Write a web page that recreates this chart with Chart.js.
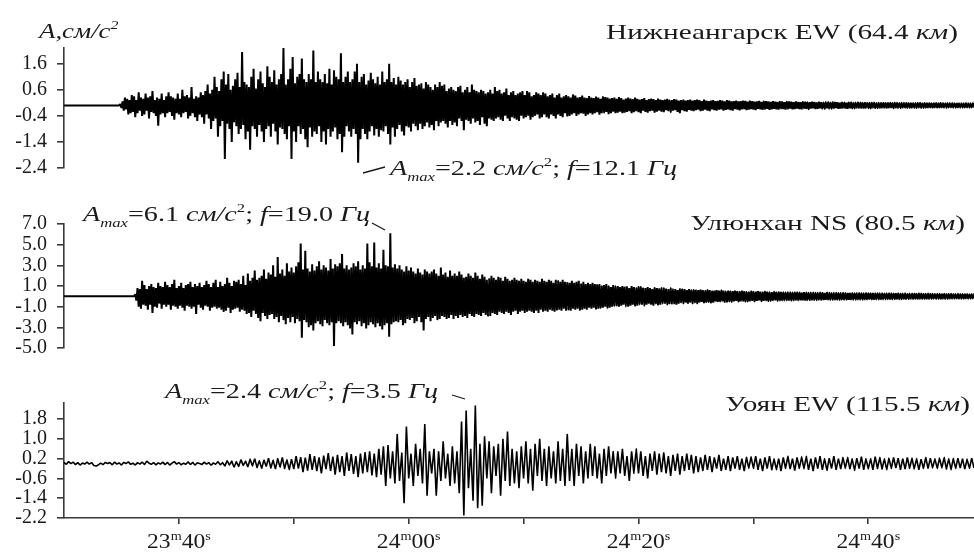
<!DOCTYPE html>
<html>
<head>
<meta charset="utf-8">
<script src="https://cdn.jsdelivr.net/npm/chart.js@4"></script>
<style>
  html, body { margin: 0; padding: 0; background: #fff; }
  #wrap { position: relative; width: 974px; height: 553px; overflow: hidden; }
  canvas { position: absolute; left: 0; }
</style>
</head>
<body>
<div id="wrap">
  <canvas id="c1" width="974" height="190" style="top:0px"></canvas>
  <canvas id="c2" width="974" height="180" style="top:190px"></canvas>
  <canvas id="c3" width="974" height="183" style="top:370px"></canvas>
</div>
<script>
// ---------- DATA ----------
// time axis: seconds after 23m30s
const timeMin = 0;
const timeMax = 79.2;
const topStep = 0.1;   // sampling step of the Нижнеангарск trace, s
const midStep = 0.1;   // sampling step of the Улюнхан trace, s
const botStep = 0.2;   // sampling step of the Уоян trace, s

// x-axis ticks (seconds after 23m30s) and their labels
const xTickValues = [10, 20, 30, 40, 50, 60, 70];
const xLabelValues = [10, 30, 50, 70];
const xLabelMin = ['23', '24', '24', '24'];
const xLabelSec = ['40', '00', '20', '40'];

// y-axis ticks for each trace
const topTicks = [1.6, 0.6, -0.4, -1.4, -2.4];
const midTicks = [7, 5, 3, 1, -1, -3, -5];
const botTicks = [1.8, 1.0, 0.2, -0.6, -1.4, -2.2];

// station labels
const stationNames = ['Нижнеангарск EW (64.4 ', 'Улюнхан NS (80.5 ', 'Уоян EW (115.5 '];

// peak annotations
const peakAmax = ['2.2', '6.1', '2.4'];
const peakFreq = ['12.1', '19.0', '3.5'];

// Нижнеангарск EW, cm/s^2 (one row = 1 s)
const topValues = [
 0,0,0,0,0,0,0,0,0,0,
 0,0,0,0,0,0,0,0,0,0,
 0,0,0,0,0,0,0,0,0,0,
 0,0,0,0,0,0,0,0,0,0,
 0,0,0,0,0,0,0,0,0,0.05,
 -0.1,0.15,-0.2,0.3,-0.15,0.25,-0.35,0.2,-0.3,0.4,
 -0.25,0.35,-0.45,0.2,-0.3,0.5,-0.2,0.3,-0.4,0.25,
 -0.35,0.45,-0.2,0.3,-0.5,0.35,-0.25,0.55,-0.3,0.2,
 -0.4,0.3,-0.78,0.25,-0.35,0.45,-0.3,0.2,-0.45,0.35,
 -0.3,0.5,-0.25,0.35,-0.4,0.3,-0.55,0.25,-0.3,0.45,
 -0.35,0.25,-0.45,0.6,-0.3,0.35,-0.25,0.4,-0.5,0.3,
 -0.4,0.7,-0.3,0.25,-0.45,0.35,-0.6,0.3,-0.35,0.5,
 -0.45,0.4,-0.7,0.55,-0.35,0.8,-0.5,0.45,-0.9,0.6,
 -0.6,1.1,-0.5,0.7,-1.2,0.55,-0.8,1.0,-0.6,1.3,
 -2.05,0.8,-0.7,1.2,-0.9,0.6,-1.4,0.75,-0.65,1.0,
 -0.8,1.25,-1.1,0.7,-0.9,2.05,-0.75,0.9,-1.3,0.8,
 -1.0,0.7,-1.7,1.1,-0.8,1.4,-0.9,0.65,-1.2,1.0,
 -0.75,1.3,-1.0,0.85,-1.4,0.7,-0.9,1.5,-0.8,1.1,
 -1.2,0.9,-0.7,1.35,-1.0,0.8,-1.5,1.0,-0.85,1.2,
 -0.9,2.2,-1.1,0.8,-1.3,1.0,-0.8,1.4,-2.05,1.85,
 -1.0,0.85,-1.4,1.1,-0.8,1.2,-1.1,1.8,-0.9,1.0,
 -1.3,0.9,-1.6,1.2,-0.85,1.0,-1.2,2.1,-1.0,0.9,
 -1.1,1.3,-0.8,1.0,-1.4,0.9,-1.0,1.2,-1.5,0.85,
 -0.9,1.4,-1.2,0.8,-1.0,1.35,-0.85,1.1,-1.3,1.0,
 -1.1,2.0,-1.8,0.9,-1.2,1.1,-0.8,1.3,-1.0,0.9,
 -1.2,1.0,-0.9,1.3,-1.1,1.6,-2.2,0.9,-1.3,1.1,
 -0.9,1.2,-1.1,0.8,-1.3,0.95,-1.0,1.25,-0.8,1.0,
 -1.15,0.85,-0.9,1.1,-1.2,0.8,-0.95,1.3,-1.0,0.9,
 -0.8,1.0,-1.1,1.6,-1.5,0.9,-0.85,1.05,-1.2,0.8,
 -0.9,1.1,-0.75,0.95,-1.0,0.8,-1.15,0.9,-0.8,1.0,
 -0.85,0.7,-1.0,0.9,-0.7,1.05,-0.8,0.75,-0.95,0.8,
 -0.7,0.85,-0.9,0.65,-0.8,0.9,-0.65,0.8,-0.85,0.7,
 -0.75,0.6,-0.95,0.8,-0.6,0.7,-0.8,0.9,-0.65,0.75,
 -0.6,0.8,-0.7,0.55,-0.85,0.65,-0.6,0.7,-0.75,0.6,
 -0.65,0.55,-0.8,0.7,-0.5,0.75,-0.6,0.5,-0.95,0.6,
 -0.55,0.7,-0.6,0.5,-0.7,0.8,-0.5,0.6,-0.65,0.55,
 -0.6,0.5,-0.75,0.6,-0.45,0.55,-0.7,0.45,-0.8,0.5,
 -0.5,0.6,-0.55,0.45,-0.6,0.7,-0.5,0.55,-0.45,0.6,
 -0.55,0.45,-0.6,0.5,-0.4,0.65,-0.5,0.4,-0.6,0.5,
 -0.45,0.55,-0.5,0.4,-0.55,0.45,-0.6,0.5,-0.4,0.55,
 -0.5,0.4,-0.45,0.55,-0.4,0.5,-0.55,0.35,-0.45,0.4,
 -0.4,0.5,-0.35,0.45,-0.5,0.4,-0.45,0.5,-0.35,0.45,
 -0.45,0.35,-0.5,0.4,-0.35,0.45,-0.4,0.3,-0.5,0.4,
 -0.35,0.45,-0.4,0.3,-0.45,0.35,-0.3,0.4,-0.42,0.35,
 -0.4,0.3,-0.35,0.42,-0.3,0.38,-0.4,0.3,-0.35,0.32,
 -0.3,0.38,-0.32,0.3,-0.4,0.28,-0.35,0.36,-0.3,0.3,
 -0.35,0.28,-0.3,0.34,-0.26,0.3,-0.36,0.25,-0.3,0.32,
 -0.28,0.32,-0.25,0.3,-0.34,0.26,-0.3,0.28,-0.24,0.3,
 -0.3,0.25,-0.28,0.32,-0.24,0.28,-0.3,0.22,-0.28,0.26,
 -0.25,0.3,-0.22,0.26,-0.3,0.24,-0.26,0.3,-0.22,0.25,
 -0.26,0.22,-0.3,0.24,-0.2,0.28,-0.25,0.2,-0.28,0.24,
 -0.22,0.26,-0.2,0.24,-0.28,0.2,-0.24,0.26,-0.2,0.22,
 -0.24,0.2,-0.26,0.22,-0.18,0.25,-0.22,0.2,-0.26,0.2,
 -0.2,0.24,-0.18,0.22,-0.25,0.18,-0.3,0.2,-0.18,0.22,
 -0.22,0.18,-0.24,0.2,-0.17,0.22,-0.2,0.18,-0.22,0.2,
 -0.18,0.22,-0.16,0.2,-0.22,0.16,-0.2,0.22,-0.16,0.18,
 -0.2,0.16,-0.22,0.18,-0.15,0.2,-0.18,0.16,-0.2,0.17,
 -0.16,0.2,-0.15,0.18,-0.2,0.15,-0.17,0.2,-0.15,0.18,
 -0.18,0.15,-0.2,0.16,-0.14,0.18,-0.16,0.15,-0.19,0.16,
 -0.15,0.18,-0.14,0.17,-0.18,0.14,-0.16,0.18,-0.14,0.16,
 -0.16,0.14,-0.18,0.15,-0.13,0.17,-0.15,0.13,-0.17,0.15,
 -0.14,0.16,-0.13,0.15,-0.17,0.13,-0.15,0.16,-0.13,0.14,
 -0.15,0.13,-0.16,0.14,-0.12,0.15,-0.14,0.12,-0.16,0.14,
 -0.13,0.15,-0.12,0.14,-0.15,0.12,-0.14,0.15,-0.12,0.13,
 -0.14,0.12,-0.15,0.13,-0.11,0.14,-0.13,0.12,-0.15,0.12,
 -0.12,0.14,-0.11,0.13,-0.14,0.11,-0.13,0.14,-0.11,0.12,
 -0.13,0.11,-0.14,0.12,-0.1,0.13,-0.12,0.11,-0.13,0.12,
 -0.11,0.13,-0.1,0.12,-0.13,0.1,-0.12,0.13,-0.1,0.11,
 -0.12,0.1,-0.13,0.11,-0.1,0.12,-0.11,0.1,-0.12,0.11,
 -0.1,0.12,-0.1,0.11,-0.12,0.1,-0.11,0.12,-0.1,0.1,
 -0.11,0.1,-0.12,0.1,-0.09,0.11,-0.1,0.09,-0.11,0.1,
 -0.1,0.11,-0.09,0.1,-0.11,0.09,-0.1,0.11,-0.09,0.1,
 -0.1,0.09,-0.11,0.1,-0.09,0.1,-0.1,0.09,-0.11,0.1,
 -0.09,0.1,-0.09,0.1,-0.1,0.09,-0.1,0.1,-0.09,0.09,
 -0.1,0.09,-0.1,0.09,-0.08,0.1,-0.09,0.08,-0.1,0.09,
 -0.09,0.1,-0.08,0.09,-0.1,0.08,-0.09,0.1,-0.08,0.09,
 -0.09,0.08,-0.1,0.09,-0.08,0.09,-0.09,0.08,-0.1,0.09,
 -0.08,0.09,-0.08,0.09,-0.09,0.08,-0.09,0.09,-0.08,0.08,
 -0.09,0.08,-0.09,0.08,-0.08,0.09,-0.08,0.08,-0.09,0.08,
 -0.08,0.09,-0.08,0.08,-0.09,0.08,-0.08,0.09,-0.08,0.08
];

// Улюнхан NS, cm/s^2 (one row = 1 s)
const midValues = [
 0,0,0,0,0,0,0,0,0,0,
 0,0,0,0,0,0,0,0,0,0,
 0,0,0,0,0,0,0,0,0,0,
 0,0,0,0,0,0,0,0,0,0,
 0,0,0,0,0,0,0,0,0,0,
 0,0,0,0,0,0,0,0,0,0,
 0,0,0.2,-0.4,0.8,-1.0,0.7,-1.2,1.5,-0.8,
 1.1,-0.9,0.7,-1.3,1.0,-0.8,1.2,-1.6,0.9,-1.0,
 0.8,-1.1,1.3,-0.7,1.0,-1.2,0.9,-0.8,1.4,-1.0,
 1.1,-0.8,0.9,-1.3,1.2,-0.9,1.6,-1.0,0.8,-1.2,
 1.0,-0.9,1.3,-1.1,0.8,-1.4,1.1,-0.9,1.2,-1.0,
 1.4,-1.2,0.9,-1.0,1.2,-1.7,1.0,-0.8,1.3,-1.1,
 0.9,-1.3,1.1,-0.9,1.5,-1.0,1.2,-1.4,0.9,-1.1,
 1.3,-1.0,1.6,-1.2,0.9,-1.1,1.4,-1.3,1.0,-1.5,
 1.2,-1.4,1.8,-1.1,1.3,-1.6,1.0,-1.3,1.5,-1.2,
 1.4,-1.1,1.6,-1.5,1.2,-1.3,2.0,-1.4,1.1,-1.7,
 2.2,-1.6,1.5,-2.0,1.8,-1.4,2.5,-1.7,1.6,-2.1,
 1.8,-2.4,2.0,-1.6,2.6,-1.9,1.7,-2.2,2.3,-1.8,
 2.1,-1.7,3.0,-2.2,1.9,-2.0,3.8,-2.5,2.2,-1.9,
 2.6,-2.3,2.0,-2.7,3.2,-2.1,2.4,-2.5,2.8,-2.0,
 2.3,-2.6,2.9,-2.2,3.3,-2.4,5.1,-4.0,2.6,-2.3,
 4.4,-2.5,2.7,-3.0,2.4,-2.8,3.1,-3.3,2.5,-2.6,
 2.9,-2.4,3.4,-2.7,2.6,-2.9,3.0,-2.3,2.8,-2.6,
 2.5,-2.8,3.6,-2.5,2.7,-4.8,3.1,-2.6,2.9,-2.4,
 3.2,-2.6,4.1,-2.9,2.7,-2.5,3.0,-2.8,2.6,-3.1,
 2.8,-3.7,3.2,-2.5,2.9,-2.7,3.4,-2.4,2.6,-2.9,
 3.0,-2.6,2.7,-3.1,5.1,-2.8,3.3,-2.5,2.9,-2.7,
 5.2,-3.0,2.8,-2.6,3.2,-2.9,2.7,-3.2,4.5,-2.8,
 3.0,-2.6,2.9,-3.9,6.1,-2.7,2.8,-2.5,3.1,-2.4,
 2.7,-2.5,3.0,-2.3,2.6,-2.8,2.4,-2.6,2.9,-2.2,
 2.5,-2.3,2.8,-2.1,2.4,-2.6,2.2,-2.4,2.7,-2.0,
 2.3,-2.5,2.1,-3.3,2.6,-2.2,2.4,-2.0,2.2,-2.4,
 2.4,-2.1,2.6,-1.9,2.2,-2.3,2.0,-2.2,2.8,-1.9,
 2.1,-2.0,2.3,-2.2,1.9,-2.1,2.5,-1.8,2.0,-2.2,
 2.2,-1.9,2.0,-2.1,2.4,-1.8,2.1,-2.0,1.8,-1.9,
 1.9,-2.1,2.2,-1.7,2.0,-1.9,1.8,-2.0,2.3,-1.7,
 2.0,-1.8,1.7,-1.9,2.1,-1.6,1.9,-1.8,1.6,-1.9,
 1.7,-1.9,2.0,-1.6,1.8,-1.7,1.6,-1.8,1.9,-1.5,
 1.8,-1.6,1.5,-1.7,1.9,-1.5,1.7,-1.6,1.5,-1.8,
 1.6,-1.5,1.8,-1.4,1.6,-1.7,1.5,-1.5,1.7,-1.4,
 1.5,-1.6,1.4,-1.5,1.7,-1.4,1.6,-1.5,1.4,-1.6,
 1.6,-1.4,1.5,-1.6,1.4,-1.3,1.7,-1.5,1.5,-1.4,
 1.4,-1.5,1.6,-1.3,1.5,-1.4,1.3,-1.5,1.6,-1.3,
 1.5,-1.3,1.4,-1.4,1.6,-1.2,1.4,-1.4,1.3,-1.3,
 1.3,-1.4,1.5,-1.2,1.3,-1.3,1.4,-1.2,1.5,-1.3,
 1.2,-1.3,1.4,-1.2,1.2,-1.3,1.3,-1.1,1.2,-1.2,
 1.3,-1.1,1.2,-1.2,1.1,-1.2,1.2,-1.1,1.0,-1.1,
 1.1,-1.0,1.2,-1.1,1.0,-1.1,0.9,-1.0,1.1,-0.9,
 1.0,-0.9,1.0,-1.0,0.9,-0.9,1.0,-0.8,0.9,-1.0,
 0.9,-1.0,0.8,-0.9,1.0,-0.8,0.9,-0.9,0.8,-0.9,
 0.9,-0.8,0.9,-0.8,0.8,-0.9,0.8,-0.8,0.9,-0.7,
 0.8,-0.8,0.7,-0.9,0.8,-0.7,0.8,-0.8,0.7,-0.8,
 0.8,-0.7,0.8,-0.7,0.7,-0.8,0.7,-0.7,0.8,-0.7,
 0.7,-0.7,0.7,-0.8,0.6,-0.7,0.7,-0.6,0.7,-0.7,
 0.7,-0.6,0.6,-0.7,0.7,-0.6,0.6,-0.7,0.6,-0.6,
 0.6,-0.7,0.6,-0.6,0.65,-0.55,0.6,-0.6,0.55,-0.6,
 0.6,-0.55,0.6,-0.6,0.5,-0.6,0.55,-0.5,0.6,-0.55,
 0.55,-0.5,0.6,-0.5,0.55,-0.55,0.5,-0.55,0.5,-0.5,
 0.5,-0.55,0.5,-0.5,0.55,-0.45,0.5,-0.5,0.45,-0.5,
 0.5,-0.45,0.5,-0.5,0.45,-0.5,0.45,-0.45,0.5,-0.45,
 0.45,-0.5,0.45,-0.45,0.5,-0.4,0.45,-0.45,0.4,-0.45,
 0.45,-0.4,0.45,-0.45,0.4,-0.45,0.4,-0.4,0.45,-0.4,
 0.4,-0.45,0.4,-0.4,0.42,-0.38,0.4,-0.4,0.38,-0.4,
 0.4,-0.38,0.4,-0.4,0.36,-0.4,0.38,-0.36,0.4,-0.38,
 0.38,-0.4,0.36,-0.38,0.4,-0.35,0.38,-0.38,0.35,-0.38,
 0.36,-0.35,0.38,-0.36,0.34,-0.37,0.35,-0.34,0.37,-0.35,
 0.35,-0.36,0.34,-0.35,0.36,-0.33,0.35,-0.35,0.33,-0.35,
 0.34,-0.33,0.35,-0.34,0.32,-0.35,0.33,-0.32,0.35,-0.33,
 0.33,-0.34,0.32,-0.33,0.34,-0.31,0.33,-0.33,0.31,-0.33,
 0.32,-0.31,0.33,-0.32,0.3,-0.33,0.31,-0.3,0.33,-0.31,
 0.31,-0.32,0.3,-0.31,0.32,-0.29,0.31,-0.31,0.29,-0.31,
 0.3,-0.29,0.31,-0.3,0.28,-0.3,0.29,-0.28,0.3,-0.29,
 0.29,-0.3,0.28,-0.29,0.3,-0.27,0.29,-0.29,0.27,-0.29,
 0.28,-0.27,0.29,-0.28,0.26,-0.28,0.27,-0.26,0.28,-0.27,
 0.27,-0.28,0.26,-0.27,0.28,-0.25,0.27,-0.27,0.25,-0.27,
 0.26,-0.25,0.27,-0.26,0.24,-0.26,0.25,-0.24,0.26,-0.25,
 0.25,-0.26,0.24,-0.25,0.26,-0.23,0.25,-0.25,0.23,-0.25,
 0.24,-0.23,0.25,-0.24,0.22,-0.24,0.23,-0.22,0.24,-0.23,
 0.23,-0.24,0.22,-0.23,0.24,-0.21,0.23,-0.23,0.21,-0.23,
 0.22,-0.21,0.23,-0.22,0.2,-0.22,0.21,-0.2,0.22,-0.21
];

// Уоян EW, cm/s^2 (one row = 2 s)
const botValues = [
 0.05,-0.03,0.08,0.0,0.06,-0.04,0.04,-0.06,0.02,-0.02,
 0.06,-0.02,0.04,-0.08,-0.1,-0.05,0.02,-0.04,0.05,0.0,
 0.04,-0.05,0.06,-0.02,0.03,-0.06,0.05,0.0,0.07,-0.03,
 0.02,-0.06,0.04,-0.02,0.06,-0.04,0.1,0.02,-0.03,0.04,
 -0.05,0.03,-0.02,0.06,-0.04,0.05,-0.06,0.02,0.08,-0.02,
 0.04,-0.05,0.02,-0.03,0.07,-0.04,0.05,-0.06,0.03,0.0,
 -0.04,0.06,-0.02,0.04,-0.07,0.03,-0.03,0.08,-0.05,0.04,
 -0.1,0.12,-0.06,0.1,-0.15,0.08,-0.12,0.16,-0.08,0.1,
 -0.14,0.18,-0.1,0.2,-0.16,0.12,-0.2,0.15,-0.12,0.22,
 -0.18,0.14,-0.22,0.2,-0.15,0.25,-0.2,0.16,-0.25,0.18,
 -0.22,0.3,-0.2,0.26,-0.35,0.24,-0.28,0.38,-0.25,0.3,
 -0.3,0.25,-0.4,0.32,-0.22,0.42,-0.3,0.28,-0.45,0.35,
 -0.35,0.3,-0.5,0.45,-0.3,0.38,-0.42,0.3,-0.55,0.4,
 -0.4,0.46,-0.35,0.5,-0.48,0.4,-0.55,0.6,-0.45,0.7,
 -0.9,0.75,-0.6,0.5,-0.8,1.2,-0.7,0.45,-1.6,1.5,
 -0.6,0.4,-0.9,0.8,-0.5,0.6,-0.8,1.6,-1.3,0.5,
 -0.4,0.6,-1.3,0.5,-0.7,0.9,-0.6,0.4,-0.9,0.7,
 -0.8,0.5,-1.2,1.7,-2.1,2.15,-1.0,0.6,-1.5,2.35,
 -1.8,0.8,-1.7,1.1,-0.6,0.9,-1.2,0.7,-0.5,0.8,
 -1.3,1.0,-0.7,1.3,-0.9,0.6,-0.8,0.5,-1.0,0.7,
 -0.6,0.9,-0.8,0.6,-1.1,0.8,-0.5,1.0,-0.7,0.6,
 -0.9,0.7,-0.6,0.5,-0.8,0.9,-0.7,0.6,-0.9,1.2,
 -0.7,0.6,-0.9,0.8,-0.5,0.7,-0.8,0.5,-0.6,0.8,
 -0.5,0.7,-0.6,0.4,-0.8,0.6,-0.5,0.7,-0.4,0.5,
 -0.6,0.5,-0.4,0.6,-0.5,0.3,-0.7,0.5,-0.4,0.6,
 -0.4,0.5,-0.5,0.3,-0.6,0.4,-0.3,0.5,-0.45,0.4,
 -0.35,0.45,-0.4,0.3,-0.5,0.35,-0.3,0.4,-0.45,0.3,
 -0.3,0.4,-0.25,0.35,-0.4,0.3,-0.35,0.25,-0.3,0.35,
 -0.25,0.3,-0.35,0.25,-0.2,0.35,-0.3,0.2,-0.25,0.3,
 -0.3,0.25,-0.2,0.3,-0.25,0.2,-0.3,0.25,-0.2,0.28,
 -0.2,0.3,-0.25,0.2,-0.3,0.25,-0.2,0.3,-0.25,0.2,
 -0.25,0.2,-0.3,0.25,-0.2,0.3,-0.22,0.2,-0.28,0.25,
 -0.2,0.28,-0.22,0.3,-0.25,0.2,-0.3,0.25,-0.2,0.3,
 -0.25,0.2,-0.28,0.22,-0.2,0.3,-0.25,0.2,-0.22,0.25,
 -0.2,0.25,-0.22,0.2,-0.28,0.22,-0.2,0.28,-0.25,0.2,
 -0.22,0.2,-0.25,0.28,-0.2,0.25,-0.22,0.2,-0.25,0.22,
 -0.2,0.25,-0.18,0.22,-0.25,0.2,-0.22,0.25,-0.2,0.22,
 -0.22,0.2,-0.25,0.18,-0.2,0.25,-0.2,0.22,-0.18,0.2,
 -0.2,0.22,-0.18,0.25,-0.22,0.2,-0.25,0.2,-0.2,0.22,
 -0.18,0.2,-0.22,0.18,-0.2,0.22,-0.18,0.2,-0.2,0.18
];

// ---------- RENDERING ----------
const FONT = '"Liberation Serif", "Times New Roman", serif';
const INK = '#1a1a1a';
const AXIS = '#3a3a3a';

function toPoints(vals, step) {
  return vals.map((v, i) => ({ x: timeMin + i * step, y: v }));
}

function drawRich(ctx, segs, x, y, size, sx, align) {
  const fontOf = s => (s.it ? 'italic ' : '') + ((s.sub || s.sup) ? Math.round(size * 0.6) : size) + 'px ' + FONT;
  const widths = segs.map(s => { ctx.font = fontOf(s); return ctx.measureText(s.t).width; });
  const total = widths.reduce((a, b) => a + b, 0) * sx;
  const x0 = align === 'right' ? x - total : (align === 'center' ? x - total / 2 : x);
  ctx.save();
  ctx.translate(x0, y);
  ctx.scale(sx, 1);
  ctx.fillStyle = INK;
  ctx.textAlign = 'left';
  ctx.textBaseline = 'alphabetic';
  let cx = 0;
  segs.forEach((s, i) => {
    ctx.font = fontOf(s);
    const dy = s.sub ? size * 0.27 : (s.sup ? -size * 0.42 : 0);
    ctx.fillText(s.t, cx, dy);
    cx += widths[i];
  });
  ctx.restore();
}

function amaxSegs(k) {
  return [
    { t: 'A', it: 1 }, { t: 'max', it: 1, sub: 1 }, { t: '=' + peakAmax[k] + ' ' },
    { t: 'см/с', it: 1 }, { t: '2', sup: 1 }, { t: '; ' }, { t: 'f', it: 1 },
    { t: '=' + peakFreq[k] + ' ' }, { t: 'Гц', it: 1 }
  ];
}
function stationSegs(k) {
  return [{ t: stationNames[k] }, { t: 'км', it: 1 }, { t: ')' }];
}

function leader(ctx, x1, y1, x2, y2) {
  ctx.save();
  ctx.strokeStyle = INK;
  ctx.lineWidth = 1.3;
  ctx.beginPath();
  ctx.moveTo(x1, y1);
  ctx.lineTo(x2, y2);
  ctx.stroke();
  ctx.restore();
}

function yAxis(min, max, ticks) {
  return {
    type: 'linear', min: min, max: max,
    afterBuildTicks: s => { s.ticks = ticks.map(v => ({ value: v })); },
    afterFit: s => { s.width = 64; },
    border: { display: true, color: AXIS, width: 1.6 },
    grid: { drawOnChartArea: false, drawTicks: true, tickLength: 7, color: AXIS, lineWidth: 1.6 },
    ticks: { autoSkip: false, padding: 10, color: INK, font: { family: FONT, size: 20 }, callback: v => Number(v).toFixed(1) }
  };
}

function makeChart(id, values, step, yMin, yMax, ticks, padTop, padBottom, showX, lineW, drawExtras) {
  const xScale = showX ? {
    type: 'linear', min: timeMin, max: timeMax, position: 'bottom',
    afterBuildTicks: s => { s.ticks = xTickValues.map(v => ({ value: v })); },
    afterFit: s => { s.height = 35; },
    border: { display: true, color: AXIS, width: 1.6 },
    grid: { drawOnChartArea: false, drawTicks: true, tickLength: 6, color: AXIS, lineWidth: 1.6 },
    ticks: { display: false, autoSkip: false }
  } : { type: 'linear', min: timeMin, max: timeMax, display: false };
  return new Chart(document.getElementById(id), {
    type: 'line',
    data: { datasets: [{ data: toPoints(values, step), borderColor: '#000', borderWidth: lineW, pointRadius: 0,
      // a tiny tension switches off Chart.js' per-pixel fast path; bevel joins avoid miter spikes on the sharp zigzags
      tension: 0.0001, borderJoinStyle: 'bevel', fill: false }] },
    options: {
      responsive: false, animation: false, events: [],
      layout: { padding: { top: padTop, bottom: padBottom, left: 0, right: 0 } },
      plugins: { legend: { display: false }, tooltip: { enabled: false }, title: { display: false } },
      scales: { x: xScale, y: yAxis(yMin, yMax, ticks) }
    },
    plugins: [{ id: 'extras' + id, afterDraw: chart => drawExtras(chart, chart.ctx) }]
  });
}

// top panel (canvas top = 0)
makeChart('c1', topValues, topStep, -2.4, 2.2, topTicks, 48, 12, false, 2.0, (chart, ctx) => {
  drawRich(ctx, [{ t: 'A,см/с', it: 1 }, { t: '2', it: 1, sup: 1 }], 39, 38, 22, 1.22, 'left');
  drawRich(ctx, stationSegs(0), 958, 39, 22, 1.33, 'right');
  leader(ctx, 363, 173, 385, 167);
  drawRich(ctx, amaxSegs(0), 390, 175, 22, 1.28, 'left');
});

// middle panel (canvas top = 190)
makeChart('c2', midValues, midStep, -5, 7, midTicks, 34, 15, false, 2.0, (chart, ctx) => {
  drawRich(ctx, stationSegs(1), 965, 40, 22, 1.33, 'right');
  drawRich(ctx, amaxSegs(1), 83, 31, 22, 1.28, 'left');
  leader(ctx, 372, 33, 385, 40);
});

// bottom panel (canvas top = 370)
makeChart('c3', botValues, botStep, -2.2, 2.45, botTicks, 33, 0, true, 1.6, (chart, ctx) => {
  drawRich(ctx, stationSegs(2), 970, 41, 22, 1.33, 'right');
  drawRich(ctx, amaxSegs(2), 165, 28, 22, 1.28, 'left');
  leader(ctx, 452, 25, 465, 29);
  const xs = chart.scales.x;
  xLabelValues.forEach((v, i) => {
    const px = xs.getPixelForValue(v);
    drawRich(ctx, [{ t: xLabelMin[i] }, { t: 'm', sup: 1 }, { t: xLabelSec[i] }, { t: 's', sup: 1 }],
      px, chart.chartArea.bottom + 30, 20, 1.18, 'center');
  });
});
</script>
</body>
</html>
